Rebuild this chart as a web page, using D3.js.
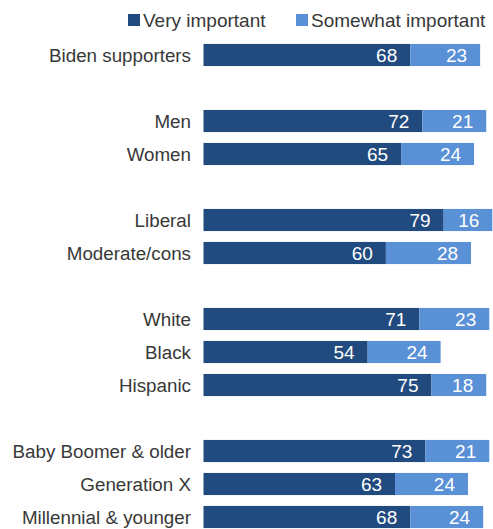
<!DOCTYPE html>
<html><head><meta charset="utf-8">
<script src="https://cdn.jsdelivr.net/npm/d3@7"></script>
<style>body{margin:0;background:#fff}</style>
</head><body>
<svg id="c" width="493" height="529"></svg>
<script>
const categories = ["Biden supporters", "", "Men", "Women", "", "Liberal", "Moderate/cons", "", "White", "Black", "Hispanic", "", "Baby Boomer & older", "Generation X", "Millennial & younger"];
const veryImportant = [68, null, 72, 65, null, 79, 60, null, 71, 54, 75, null, 73, 63, 68];
const somewhatImportant = [23, null, 21, 24, null, 16, 28, null, 23, 24, 18, null, 21, 24, 24];
const seriesNames = ["Very important", "Somewhat important"];
const colors = ["#214a7e", "#5a90d6"];

const svg = d3.select("#c");
const font = "'Liberation Sans', Arial, sans-serif";
const x = d3.scaleLinear().domain([0, 100]).range([203.5, 507.5]);
const y = d3.scaleBand().domain(d3.range(categories.length)).range([38.5, 533.5]).paddingInner(0.33).paddingOuter(0.165);

const rows = categories.map((c, i) => ({c, i, v: veryImportant[i], s: somewhatImportant[i]})).filter(d => d.c !== "");

svg.selectAll("text.cat").data(rows).join("text")
  .attr("x", 191).attr("y", d => y(d.i) + y.bandwidth() / 2)
  .attr("dy", "0.35em").attr("text-anchor", "end")
  .style("font-family", font).style("font-size", "18.8px").style("fill", "#383838")
  .text(d => d.c);

const segs = [];
rows.forEach(d => {
  segs.push({i: d.i, x0: 0, x1: d.v, val: d.v, k: 0});
  segs.push({i: d.i, x0: d.v, x1: d.v + d.s, val: d.s, k: 1});
});
svg.selectAll("rect.bar").data(segs).join("rect")
  .attr("x", d => x(d.x0)).attr("width", d => x(d.x1) - x(d.x0))
  .attr("y", d => y(d.i)).attr("height", y.bandwidth())
  .attr("fill", d => colors[d.k]);

svg.selectAll("text.val").data(segs).join("text")
  .attr("x", d => x(d.x1) - 13).attr("y", d => y(d.i) + y.bandwidth() / 2)
  .attr("dy", "0.36em").attr("text-anchor", "end")
  .style("font-family", font).style("font-size", "19px").style("fill", "#fff")
  .text(d => d.val);

const leg = [{n: seriesNames[0], x: 128}, {n: seriesNames[1], x: 296}];
leg.forEach((l, k) => {
  svg.append("rect").attr("x", l.x).attr("y", 14).attr("width", 12).attr("height", 12).attr("fill", colors[k]);
  svg.append("text").attr("x", l.x + 15).attr("y", 20).attr("dy", "0.35em")
    .style("font-family", font).style("font-size", "19px").style("fill", "#383838").text(l.n);
});
</script>
</body></html>
